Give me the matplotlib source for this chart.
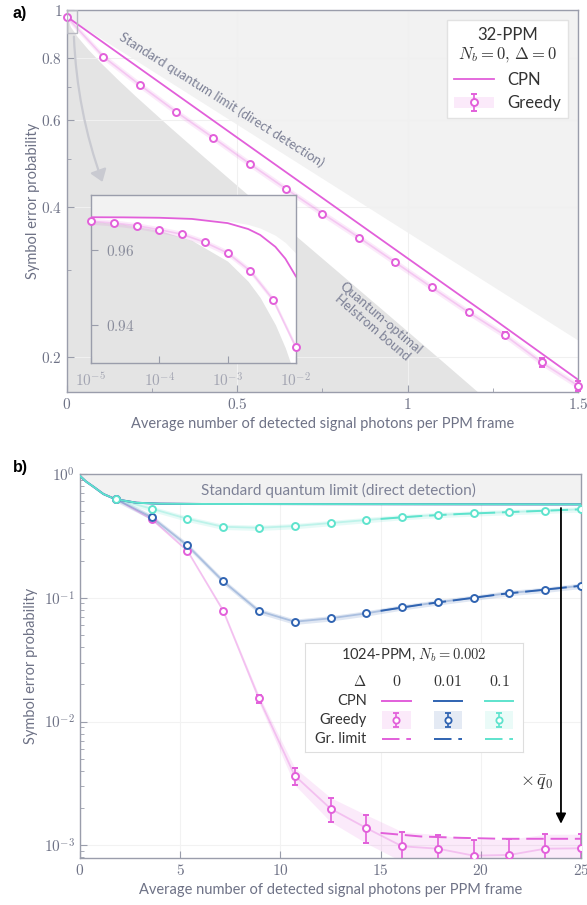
import matplotlib
matplotlib.use('Agg')
import matplotlib.pyplot as plt
from matplotlib.ticker import FixedLocator, NullFormatter, FuncFormatter
from matplotlib.patches import Patch, Rectangle, FancyArrowPatch
import numpy as np

plt.rcParams['font.family'] = ['Lato', 'DejaVu Sans']
plt.rcParams['mathtext.fontset'] = 'cm'

PINK = '#e25fda'
BLUE = '#2f63b1'
TEAL = '#5ee3cd'
GREY_TXT = '#6e7286'
SPINE = '#9a9dab'
SQL_FILL = '#f2f2f2'
HEL_FILL = '#e4e4e4'

# ---------------- panel a data (32-PPM) ----------------
a_sql_n = [0.0, 1.5]
a_sql_p = [0.96875, 0.21616]
a_hel_n = [0.0, 0.01, 0.03, 0.06, 0.1, 0.15, 0.2, 0.3, 0.4, 0.5, 0.6, 0.7,
           0.8, 0.9, 1.0, 1.1, 1.2, 1.3, 1.4, 1.5]
a_hel_p = [0.96875, 0.92570, 0.88387, 0.83557, 0.78165, 0.72335, 0.67172,
           0.58246, 0.50709, 0.44239, 0.38637, 0.33761, 0.29502, 0.25777,
           0.22511, 0.19648, 0.17136, 0.14932, 0.12999, 0.11304]
a_cpn_n = [0.0, 0.25, 0.5, 0.75, 1.0, 1.25, 1.5]
a_cpn_p = [0.969, 0.732, 0.553, 0.418, 0.316, 0.239, 0.180]
a_greedy_n = [0.0, 0.107, 0.214, 0.321, 0.429, 0.536, 0.643, 0.75, 0.857,
              0.964, 1.071, 1.179, 1.286, 1.393, 1.5]
a_greedy_p = [0.967, 0.805, 0.706, 0.623, 0.553, 0.490, 0.436, 0.389, 0.348,
              0.310, 0.276, 0.246, 0.221, 0.195, 0.175]
a_greedy_err = [0.001, 0.002, 0.002, 0.002, 0.003, 0.003, 0.003, 0.003, 0.003,
                0.003, 0.003, 0.003, 0.003, 0.004, 0.004]

# inset (small photon numbers)
in_n = [1e-5, 3e-5, 1e-4, 3e-4, 1e-3, 2e-3, 3e-3, 5e-3, 7e-3, 1e-2]
in_sql_p = [0.96874, 0.96872, 0.96865, 0.96846, 0.96778, 0.96681, 0.96585,
            0.96392, 0.96199, 0.95911]
in_hel_p = [0.96766, 0.96685, 0.96523, 0.96255, 0.95702, 0.95164, 0.94731,
            0.94009, 0.93390, 0.92570]
in_cpn_p = [0.96873, 0.96870, 0.96859, 0.96828, 0.96717, 0.96559, 0.96401,
            0.96085, 0.95769, 0.95295]
in_greedy_n = [1e-5, 2.15e-5, 4.64e-5, 1e-4, 2.15e-4, 4.64e-4, 1e-3, 2.15e-3,
               4.64e-3, 1e-2]
in_greedy_p = [0.96765, 0.96720, 0.96648, 0.96541, 0.96419, 0.96205, 0.95920,
               0.95440, 0.94675, 0.93405]

# ---------------- panel b data (1024-PPM) ----------------
b_cpn_n = [0, 0.3, 0.67, 1.17, 1.78, 2.83, 4, 6, 10, 15, 20, 25]
b_cpn_p = [0.965, 0.87, 0.79, 0.689, 0.625, 0.586, 0.576, 0.573, 0.572,
           0.571, 0.570, 0.569]
b_n = [1.786, 3.571, 5.357, 7.143, 8.929, 10.714, 12.5, 14.286, 16.071,
       17.857, 19.643, 21.429, 23.214, 25.0]
b_pink = [0.628, 0.433, 0.240, 0.0787, 0.0154, 0.00366, 0.00198, 0.00138,
          0.000983, 0.00094, 0.000826, 0.000837, 0.00094, 0.000947]
b_pink_lo = [0.620, 0.425, 0.235, 0.076, 0.0142, 0.00308, 0.00155, 0.00104,
             0.00074, 0.00070, 0.00058, 0.00060, 0.00070, 0.00072]
b_pink_hi = [0.636, 0.441, 0.246, 0.0815, 0.0164, 0.00424, 0.00243, 0.00176,
             0.00129, 0.00122, 0.00111, 0.00112, 0.00123, 0.00123]
b_blue = [0.628, 0.449, 0.265, 0.136, 0.0782, 0.0641, 0.0683, 0.0749, 0.0838,
          0.0920, 0.1002, 0.1093, 0.1162, 0.1252]
b_teal = [0.628, 0.525, 0.435, 0.375, 0.368, 0.380, 0.402, 0.425, 0.449,
          0.467, 0.481, 0.493, 0.505, 0.519]
gl_n = [15.0, 17.0, 19.0, 21.0, 23.0, 25.0]
gl_pink = [0.00126, 0.00118, 0.00115, 0.00113, 0.00113, 0.00113]
gl_blue = [0.0785, 0.088, 0.097, 0.107, 0.1155, 0.1252]
gl_teal = [0.434, 0.458, 0.476, 0.490, 0.504, 0.519]
q0_x = 24.0
q0_top, q0_bottom = 0.56, 0.00142

fig = plt.figure(figsize=(5.87, 9.05), dpi=100)
ax = fig.add_axes([0.1141, 0.5669, 0.8706, 0.4221])
bx = fig.add_axes([0.1363, 0.0519, 0.8535, 0.4243])


def style(a):
    for s in a.spines.values():
        s.set_color(SPINE)
        s.set_linewidth(1.0)
    a.tick_params(which='both', direction='in', colors=SPINE, labelcolor=GREY_TXT,
                  labelsize=11)
    a.tick_params(which='major', length=5)
    a.tick_params(which='minor', length=3)


def num_fmt(v, pos):
    return '$%g$' % v


def pow_fmt(v, pos):
    return '$10^{%d}$' % int(round(np.log10(v)))


# ============ panel a ============
style(ax)
ax.set_yscale('log')
ax.set_xlim(0, 1.5)
ax.set_ylim(0.17, 1.0)
ax.fill_between(a_sql_n, a_sql_p, [1.0, 1.0], color=SQL_FILL, lw=0, zorder=0)
ax.fill_between(a_hel_n, [0.1] * len(a_hel_n), a_hel_p, color=HEL_FILL, lw=0, zorder=0)
ax.grid(True, which='major', color='#f0f0f0', lw=0.8, zorder=0.5)
cpn_a, = ax.plot(a_cpn_n, a_cpn_p, color=PINK, lw=1.3, zorder=3)
ga = np.array(a_greedy_p)
ax.fill_between(a_greedy_n, ga * 0.985, ga * 1.015, color=PINK, alpha=0.13, lw=0, zorder=2)
ax.plot(a_greedy_n, a_greedy_p, color=PINK, alpha=0.25, lw=1.2, zorder=2)
eb_a = ax.errorbar(a_greedy_n, a_greedy_p, yerr=a_greedy_err, fmt='o', ms=5,
                   mfc='white', mec=PINK, mew=1.4, ecolor=PINK, elinewidth=1.2,
                   capsize=2, capthick=1.2, zorder=4, clip_on=False)
ax.xaxis.set_major_locator(FixedLocator([0, 0.5, 1, 1.5]))
ax.xaxis.set_minor_locator(FixedLocator([0.25, 0.75, 1.25]))
ax.xaxis.set_major_formatter(FuncFormatter(num_fmt))
ax.yaxis.set_major_locator(FixedLocator([0.2, 0.4, 0.6, 0.8, 1.0]))
ax.yaxis.set_minor_locator(FixedLocator([0.3, 0.5, 0.7, 0.9]))
ax.yaxis.set_major_formatter(FuncFormatter(num_fmt))
ax.yaxis.set_minor_formatter(NullFormatter())
ax.set_xlabel('Average number of detected signal photons per PPM frame',
              color=GREY_TXT, fontsize=10.5)
ax.set_ylabel('Symbol error probability', color=GREY_TXT, fontsize=10.5, labelpad=1)

ax.text(0.455, 0.659, 'Standard quantum limit (direct detection)', rotation=-32.3,
        rotation_mode='anchor', ha='center', va='center', color='#7d8196', fontsize=9.5)
ax.text(0.908, 0.234, 'Quantum-optimal\nHelstrom bound', rotation=-40.5,
        rotation_mode='anchor', ha='center', va='center', color='#7d8196', fontsize=9.5,
        linespacing=1.0)

leg_a = ax.legend([cpn_a, (Patch(facecolor=PINK, alpha=0.13, lw=0), eb_a)],
                  ['CPN', 'Greedy'], loc='upper right', fontsize=12,
                  title='32-PPM\n$N_b = 0,\\,\\Delta = 0$', title_fontsize=12,
                  fancybox=False, edgecolor='#e2e2e2', framealpha=1,
                  borderaxespad=0.6, handlelength=2.4, labelspacing=0.45)
leg_a.get_frame().set_linewidth(1.0)
for t in leg_a.get_texts():
    t.set_color('#333333')
leg_a.get_title().set_color('#333333')
leg_a.get_title().set_multialignment('center')

# zoom rectangle and arrow
ax.add_patch(Rectangle((0, 0.9), 0.03, 0.1, fill=False, ec='#b8b9c2', lw=1.0, zorder=5))
ax.add_patch(FancyArrowPatch((0.02, 0.895), (0.107, 0.445), connectionstyle='arc3,rad=0.08',
                             arrowstyle='-|>,head_length=7,head_width=5',
                             color='#c9cad1', lw=1.6, zorder=5))

# inset
ai = ax.inset_axes([0.047, 0.076, 0.401, 0.440])
style(ai)
ai.set_xscale('log')
ai.set_xlim(1e-5, 1e-2)
ai.set_ylim(0.9299, 0.9747)
ai.fill_between(in_n, in_sql_p, [1.0] * len(in_n), color=SQL_FILL, lw=0, zorder=0)
ai.fill_between(in_n, [0.9] * len(in_n), in_hel_p, color=HEL_FILL, lw=0, zorder=0)
ai.plot(in_n, in_cpn_p, color=PINK, lw=1.3, zorder=3)
gi = np.array(in_greedy_p)
ai.fill_between(in_greedy_n, gi - 0.0008, gi + 0.0008, color=PINK, alpha=0.13, lw=0, zorder=2)
ai.plot(in_greedy_n, in_greedy_p, color=PINK, alpha=0.25, lw=1.2, zorder=2)
ai.plot(in_greedy_n, in_greedy_p, 'o', ms=5, mfc='white', mec=PINK, mew=1.4,
        zorder=4, clip_on=False)
ai.xaxis.set_major_locator(FixedLocator([1e-5, 1e-4, 1e-3, 1e-2]))
ai.xaxis.set_minor_locator(FixedLocator([]))
ai.xaxis.set_major_formatter(FuncFormatter(pow_fmt))
ai.yaxis.set_major_locator(FixedLocator([0.94, 0.96]))
ai.yaxis.set_major_formatter(FuncFormatter(num_fmt))
ai.tick_params(axis='x', labelcolor='#a3a5b2', pad=6)
ai.tick_params(axis='y', pad=-11, labelcolor='#8a8d9c')
for t in ai.get_yticklabels():
    t.set_horizontalalignment('left')
ai.set_zorder(6)

fig.text(0.022, 0.985, 'a)', fontsize=11.5, fontweight='bold', family='Liberation Sans',
         va='center')

# ============ panel b ============
style(bx)
bx.set_yscale('log')
bx.set_xlim(0, 25)
bx.set_ylim(7.9e-4, 1.0)
bx.fill_between(b_cpn_n, b_cpn_p, [1.0] * len(b_cpn_n), color=SQL_FILL, lw=0, zorder=0)
bx.grid(True, which='major', color='#f2f2f2', lw=0.8, zorder=0.5)
bx.text(12.9, 0.743, 'Standard quantum limit (direct detection)', ha='center',
        va='center', color='#7d8196', fontsize=11)

series = [(b_pink, PINK, gl_pink), (b_blue, BLUE, gl_blue), (b_teal, TEAL, gl_teal)]
for vals, col, gl in series:
    bx.plot(b_cpn_n, b_cpn_p, color=col, lw=1.4, zorder=3)
for vals, col, gl in series:
    v = np.array(vals)
    if col == PINK:
        lo, hi = np.array(b_pink_lo), np.array(b_pink_hi)
        bx.fill_between(b_n, lo, hi, color=col, alpha=0.13, lw=0, zorder=2)
        yerr = [v - lo, hi - v]
    else:
        bx.fill_between(b_n, v * 0.95, v * 1.05, color=col, alpha=0.15, lw=0, zorder=2)
        yerr = v * 0.02
    bx.plot(b_n, vals, color=col, alpha=0.3, lw=1.3, zorder=2)
    bx.plot(gl_n, gl, color=col, lw=1.4, dashes=(9, 3.5), zorder=3)
    bx.errorbar(b_n, vals, yerr=yerr, fmt='o', ms=5, mfc='white', mec=col, mew=1.4,
                ecolor=col, elinewidth=1.2, capsize=2, capthick=1.2, zorder=4,
                clip_on=True)

bx.annotate('', xy=(q0_x, q0_bottom), xytext=(q0_x, q0_top),
            arrowprops=dict(arrowstyle='-|>,head_length=0.6,head_width=0.3',
                            color='black', lw=1.3), zorder=6)
bx.text(q0_x - 0.4, 0.0032, r'$\times\,\bar{q}_0$', ha='right', va='center',
        fontsize=13, color='#333333')

bx.xaxis.set_major_locator(FixedLocator([0, 5, 10, 15, 20, 25]))
bx.xaxis.set_major_formatter(FuncFormatter(num_fmt))
bx.yaxis.set_major_locator(FixedLocator([1e-3, 1e-2, 1e-1, 1e0]))
bx.yaxis.set_minor_locator(FixedLocator([m * 10.0 ** e for e in range(-4, 0)
                                         for m in range(2, 10)]))
bx.yaxis.set_major_formatter(FuncFormatter(pow_fmt))
bx.yaxis.set_minor_formatter(NullFormatter())
bx.set_xlabel('Average number of detected signal photons per PPM frame',
              color=GREY_TXT, fontsize=10.5)
bx.set_ylabel('Symbol error probability', color=GREY_TXT, fontsize=10.5)

# table-like legend for panel b
lg = bx.inset_axes([0.449, 0.276, 0.435, 0.284])
lg.set_xlim(0, 1)
lg.set_ylim(0, 1)
lg.set_xticks([])
lg.set_yticks([])
for s in lg.spines.values():
    s.set_color('#dedede')
lg.set_zorder(7)
txt_c = '#333333'
lg.text(0.5, 0.89, '1024-PPM, $N_b = 0.002$', ha='center', va='center', fontsize=10.5,
        color=txt_c)
row_y = [0.645, 0.468, 0.294, 0.119]
col_x = [0.42, 0.655, 0.891]
deltas = ['0', '0.01', '0.1']
for lab, yy in zip([r'$\Delta$', 'CPN', 'Greedy', 'Gr. limit'], row_y):
    lg.text(0.283, yy, lab, ha='right', va='center', fontsize=10.5, color=txt_c)
hw = 0.065
for (vals, col, gl), cx, d in zip(series, col_x, deltas):
    lg.text(cx, row_y[0], '$%s$' % d, ha='center', va='center', fontsize=11.5, color=txt_c)
    lg.plot([cx - hw, cx + hw], [row_y[1]] * 2, color=col, lw=1.4)
    lg.add_patch(Rectangle((cx - hw, row_y[2] - 0.08), 2 * hw, 0.16, color=col,
                           alpha=0.13, lw=0))
    lg.errorbar([cx], [row_y[2]], yerr=[0.06], fmt='o', ms=4.5, mfc='white', mec=col,
                mew=1.3, ecolor=col, elinewidth=1.2, capsize=2, capthick=1.2)
    lg.plot([cx - hw, cx + hw], [row_y[3]] * 2, color=col, lw=1.4, dashes=(9, 3.5))

fig.text(0.022, 0.483, 'b)', fontsize=11.5, fontweight='bold', family='Liberation Sans',
         va='center')

fig.savefig('out.png', dpi=100)
